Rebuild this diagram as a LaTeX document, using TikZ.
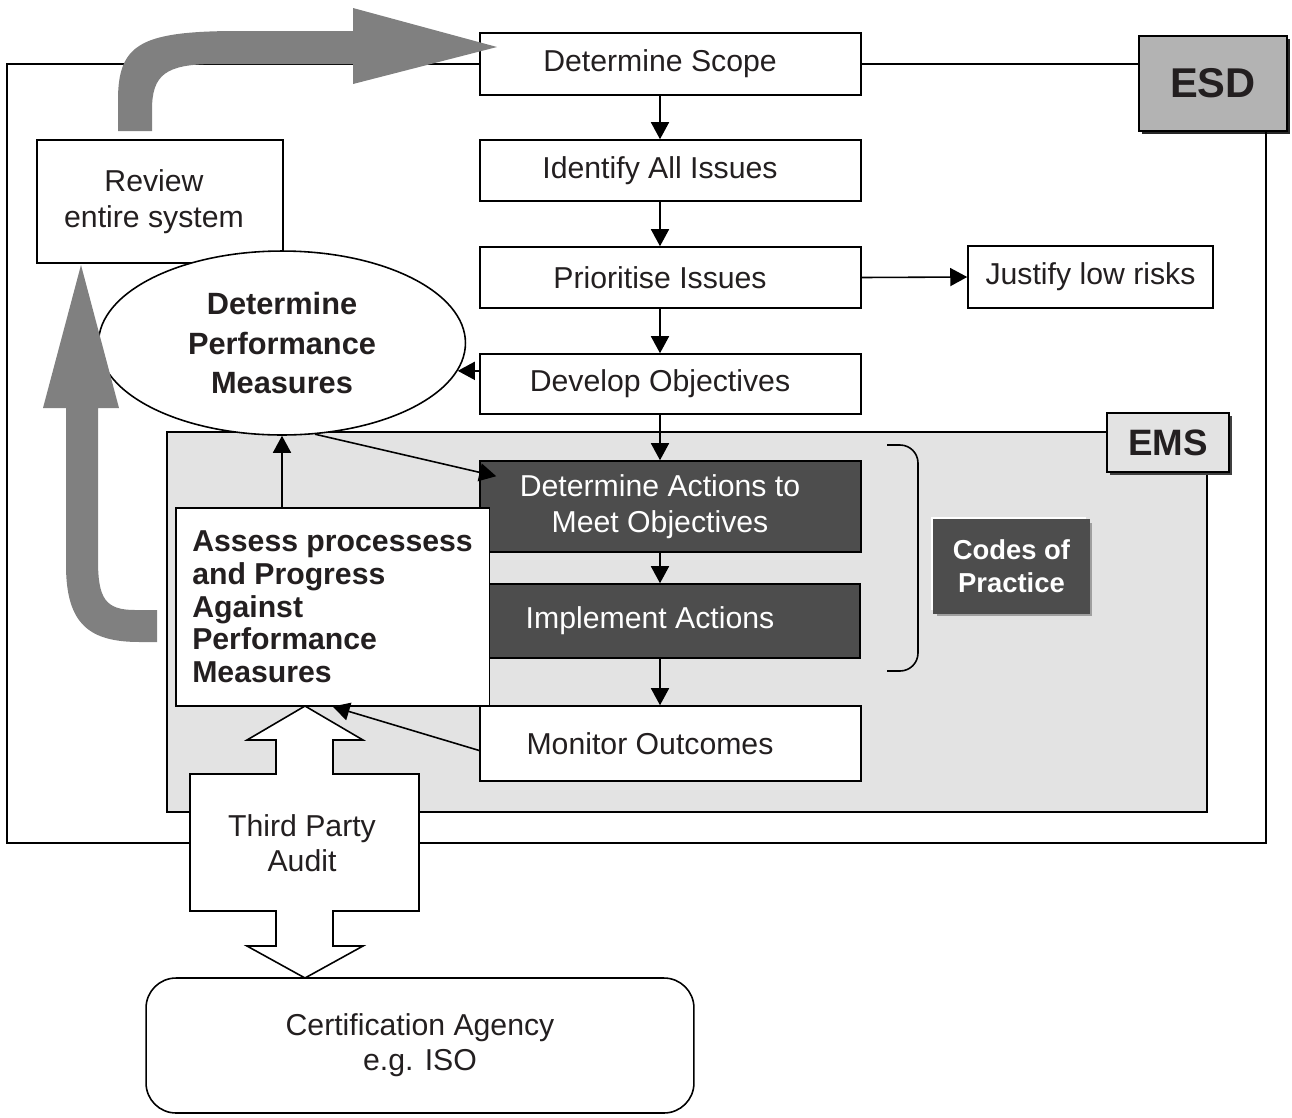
\documentclass[tikz,border=0pt]{standalone}
\usepackage{fontspec}
\setmainfont{Liberation Sans}
\usepackage{tikz}
\usetikzlibrary{arrows.meta,shapes.geometric,shadows,calc}
\definecolor{ink}{HTML}{231F20}
\definecolor{emsgray}{HTML}{E3E3E3}
\definecolor{esdgray}{HTML}{B3B3B3}
\definecolor{actgray}{HTML}{4D4D4D}
\definecolor{flowgray}{HTML}{808080}
\tikzset{
  box/.style={draw=black,fill=white,line width=0.9pt,inner sep=0pt,text=ink,align=center,font=\fontsize{17.2}{20.4}\selectfont},
  col/.style={box,minimum width=7.62cm},
  act/.style={box,fill=actgray,text=white},
  arr/.style={line width=0.9pt,-{Triangle[length=0.34cm,width=0.36cm]}},
  big/.style={fill=flowgray},
  tag/.style={draw=black,line width=1pt,text=ink,inner sep=0pt},
  shd/.style={drop shadow={shadow xshift=0.06cm,shadow yshift=-0.06cm,fill=#1,opacity=1}}
}
\newcommand{\lsh}[1]{\hspace*{-#1cm}}

\begin{document}
\begin{tikzpicture}[x=0.02cm,y=-0.02cm]
\useasboundingbox (0,0) rectangle (1292,1117);
\node[box,fill=emsgray,minimum width=20.8cm,minimum height=7.6cm] (emsbg) at (687,622) {};
\coordinate (cx) at (660,0);
\node[col,minimum height=1.24cm] (scope) at (670.5,64) {\lsh{0.42}Determine Scope};
\node[col,minimum height=1.22cm] (ident) at (670.5,170.5) {\lsh{0.42}Identify All Issues};
\node[col,minimum height=1.22cm] (prio) at (670.5,277.5) {\lsh{0.42}Prioritise Issues};
\node[col,minimum height=1.2cm] (dev) at (670.5,384) {\lsh{0.42}Develop Objectives};
\node[box,minimum width=4.9cm,minimum height=1.24cm] (just) at (1090.5,277) {Justify low risks};
\node[tag,fill=esdgray,line width=1.5pt,minimum width=2.96cm,minimum height=1.9cm,font=\bfseries\fontsize{23.7}{26}\selectfont,shd=black!85] (esd) at (1213,83.5) {ESD};
\draw[line width=0.9pt] (scope.west) -- (7,64) -- (7,843) -- (1266,843) -- (1266,0 |- esd.south);
\draw[line width=0.9pt] (scope.east) -- (scope.east -| esd.west);
\draw[arr] (scope.south -| cx) -- (ident.north -| cx);
\draw[arr] (ident.south -| cx) -- (prio.north -| cx);
\draw[arr] (prio.south -| cx) -- (dev.north -| cx);
\draw[arr] (prio.east) -- (just.west);
\node[box,minimum width=4.92cm,minimum height=2.46cm] (review) at (160,201.5) {\lsh{0.24}Review\\\lsh{0.24}entire system};
\node[box,ellipse,minimum width=7.34cm,minimum height=3.68cm,font=\bfseries\fontsize{17.5}{22.4}\selectfont] (pm) at (282,343) {Determine\\Performance\\Measures};
\draw[arr] (dev.west |- pm.-9) -- (pm.-9);
\node[col,act,minimum height=1.82cm] (act) at (670.5,506.5) {\lsh{0.42}Determine Actions to\\\lsh{0.42}Meet Objectives};
\node[act,minimum width=7.46cm,minimum height=1.48cm] (imp) at (673.5,621) {\lsh{0.94}Implement Actions};
\node[col,minimum height=1.5cm] (mon) at (670.5,743.5) {\lsh{0.82}Monitor Outcomes};
\draw[arr] (dev.south -| cx) -- (act.north -| cx);
\draw[arr] (act.south -| cx) -- (imp.north -| cx);
\draw[arr] (imp.south -| cx) -- (mon.north -| cx);
\draw[arr] (pm.-70) -- ($(act.north west)+(17,16)$);
\node[box,anchor=north west,align=left,inner xsep=0.33cm,minimum height=3.96cm,font=\bfseries\fontsize{17.2}{18.7}\selectfont] (assess) at (175,507) {Assess processess\\and Progress\\Against\\Performance\\Measures};
\draw[arr] (assess.north -| pm.south) -- (pm.south);
\draw[arr] ($(mon.west)+(0,7)$) -- (assess.south);
\draw[line width=0.9pt,rounded corners=0.36cm] (887,445) -- (918,445) -- (918,671) -- (887,671);
\node[box,draw=actgray,fill=actgray,text=white,minimum width=3.1cm,minimum height=1.86cm,font=\bfseries\fontsize{15.6}{18.7}\selectfont,shd=gray!75,drop shadow={shadow xshift=-0.06cm,shadow yshift=0.06cm,fill=white,opacity=1}] (cop) at (1011.5,566.5) {Codes of\\Practice};
\node[tag,fill=emsgray,minimum width=2.44cm,minimum height=1.18cm,font=\bfseries\fontsize{20.9}{24}\selectfont,shd=black!75] (ems) at (1168,442.5) {EMS};
\fill[big] (118,131) -- (118,100) .. controls (118,45) and (140,32) .. (230,31) -- (353,31) -- (353,8) -- (497,47) -- (353,84) -- (353,64) -- (215,64) .. controls (165,64) and (152,75) .. (152,110) -- (152,131) -- cycle;
\fill[big] (157,610) -- (135,610) .. controls (105,610) and (98,598) .. (98,560) -- (98,408) -- (119,408) -- (81,265) -- (43,408) -- (66,408) -- (66,565) .. controls (66,625) and (90,642) .. (140,642) -- (157,642) -- cycle;
\draw[line width=0.9pt,fill=white] (305,706) -- (363,740) -- (333,740) -- (333,774) -- (419,774) -- (419,911) -- (333,911) -- (333,946) -- (363,946) -- (305,978) -- (247,946) -- (276,946) -- (276,911) -- (190,911) -- (190,774) -- (276,774) -- (276,740) -- (247,740) -- cycle;
\node[text=ink,align=center,font=\fontsize{17.2}{19.8}\selectfont] (tpa) at (302,843) {Third Party\\Audit};
\node[box,rounded corners=0.6cm,minimum width=10.96cm,minimum height=2.7cm,font=\fontsize{17.2}{19.8}\selectfont] (cert) at (420,1045.5) {Certification Agency\\e.g. ISO};
\end{tikzpicture}
\end{document}
